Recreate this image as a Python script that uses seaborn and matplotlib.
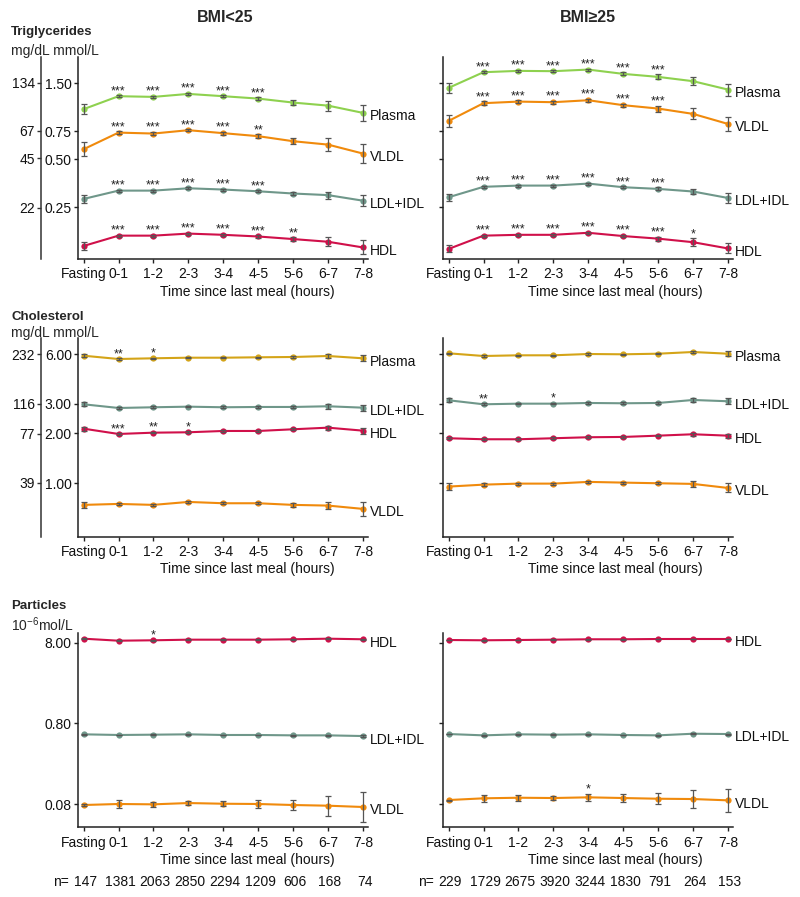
import numpy as np
import pandas as pd
import seaborn as sns
import matplotlib.pyplot as plt
import matplotlib.ticker as mticker
import matplotlib.transforms as mtrans

# Data (mmol/L, log scale), relative error bars in %

times = ["Fasting", "0-1", "1-2", "2-3", "3-4", "4-5", "5-6", "6-7", "7-8"]
n_lean = [147, 1381, 2063, 2850, 2294, 1209, 606, 168, 74]
n_over = [229, 1729, 2675, 3920, 3244, 1830, 791, 264, 153]

# Triglycerides
tg_lean = {
    "Plasma": [1.031, 1.243, 1.231, 1.285, 1.243, 1.201, 1.134, 1.085, 0.977],
    "VLDL": [0.578, 0.735, 0.725, 0.761, 0.729, 0.698, 0.649, 0.618, 0.543],
    "LDL+IDL": [0.282, 0.318, 0.318, 0.329, 0.323, 0.315, 0.305, 0.298, 0.275],
    "HDL": [0.143, 0.166, 0.166, 0.171, 0.168, 0.164, 0.158, 0.152, 0.140],
}
tg_lean_err = {
    "Plasma": [7.5, 1.5, 1.5, 1.5, 1.5, 2.2, 4.0, 7.5, 11.8],
    "VLDL": [10.6, 2.2, 2.2, 1.5, 2.2, 2.9, 4.4, 10.3, 15.2],
    "LDL+IDL": [5.9, 1.5, 1.5, 1.5, 1.5, 1.5, 2.9, 5.2, 8.6],
    "HDL": [5.9, 1.5, 1.5, 1.5, 1.5, 1.5, 2.9, 6.7, 10.6],
}
tg_lean_sig = {
    "Plasma": ["", "***", "***", "***", "***", "***", "", "", ""],
    "VLDL": ["", "***", "***", "***", "***", "**", "", "", ""],
    "LDL+IDL": ["", "***", "***", "***", "***", "***", "", "", ""],
    "HDL": ["", "***", "***", "***", "***", "***", "**", "", ""],
}
tg_over = {
    "Plasma": [1.402, 1.758, 1.792, 1.784, 1.826, 1.716, 1.643, 1.544, 1.368],
    "VLDL": [0.870, 1.124, 1.150, 1.140, 1.173, 1.092, 1.040, 0.963, 0.833],
    "LDL+IDL": [0.289, 0.336, 0.342, 0.342, 0.352, 0.334, 0.326, 0.314, 0.286],
    "HDL": [0.137, 0.166, 0.168, 0.168, 0.173, 0.165, 0.159, 0.151, 0.138],
}
tg_over_err = {
    "Plasma": [7.5, 1.5, 1.5, 1.5, 1.5, 2.2, 3.7, 5.9, 9.1],
    "VLDL": [9.1, 2.9, 2.2, 2.2, 2.2, 2.2, 4.4, 8.3, 11.1],
    "LDL+IDL": [5.2, 1.5, 1.5, 1.5, 1.5, 1.5, 2.2, 4.4, 7.5],
    "HDL": [5.2, 1.5, 1.5, 1.5, 1.5, 1.5, 2.9, 5.9, 7.5],
}
tg_over_sig = {
    "Plasma": ["", "***", "***", "***", "***", "***", "***", "", ""],
    "VLDL": ["", "***", "***", "***", "***", "***", "***", "", ""],
    "LDL+IDL": ["", "***", "***", "***", "***", "***", "***", "", ""],
    "HDL": ["", "***", "***", "***", "***", "***", "***", "*", ""],
}

# Cholesterol
ch_lean = {
    "Plasma": [5.860, 5.598, 5.653, 5.700, 5.700, 5.732, 5.756, 5.836, 5.653],
    "LDL+IDL": [2.987, 2.838, 2.866, 2.890, 2.866, 2.878, 2.878, 2.906, 2.850],
    "HDL": [2.130, 1.979, 2.015, 2.026, 2.063, 2.063, 2.112, 2.160, 2.072],
    "VLDL": [0.740, 0.750, 0.740, 0.771, 0.757, 0.757, 0.740, 0.733, 0.700],
}
ch_lean_err = {
    "Plasma": [2.1, 1.1, 1.1, 1.1, 1.1, 1.1, 1.1, 3.5, 4.2],
    "LDL+IDL": [2.8, 1.1, 1.1, 1.1, 1.1, 1.1, 1.1, 3.5, 4.2],
    "HDL": [2.8, 1.1, 1.1, 1.1, 1.1, 1.1, 1.1, 2.8, 4.2],
    "VLDL": [4.2, 1.4, 1.1, 1.4, 1.4, 1.4, 2.8, 5.0, 9.9],
}
ch_lean_sig = {
    "Plasma": ["", "**", "*", "", "", "", "", "", ""],
    "LDL+IDL": [""] * 9,
    "HDL": ["", "***", "**", "*", "", "", "", "", ""],
    "VLDL": [""] * 9,
}
ch_over = {
    "Plasma": [6.058, 5.836, 5.893, 5.893, 6.000, 5.975, 6.025, 6.169, 6.025],
    "LDL+IDL": [3.158, 2.987, 3.013, 3.013, 3.042, 3.029, 3.042, 3.171, 3.115],
    "HDL": [1.865, 1.839, 1.839, 1.865, 1.891, 1.899, 1.933, 1.971, 1.933],
    "VLDL": [0.954, 0.980, 0.994, 0.994, 1.018, 1.008, 0.999, 0.990, 0.936],
}
ch_over_err = {
    "Plasma": [1.1, 1.1, 1.1, 1.1, 1.1, 1.1, 1.1, 2.1, 3.5],
    "LDL+IDL": [2.8, 1.1, 1.1, 1.1, 1.1, 1.1, 1.1, 2.8, 4.2],
    "HDL": [1.7, 1.1, 1.1, 1.1, 1.1, 1.1, 1.1, 2.1, 2.8],
    "VLDL": [5.0, 1.7, 1.4, 1.4, 1.4, 1.4, 1.7, 4.2, 6.4],
}
ch_over_sig = {
    "Plasma": [""] * 9,
    "LDL+IDL": ["", "**", "", "*", "", "", "", "", ""],
    "HDL": [""] * 9,
    "VLDL": [""] * 9,
}

# Particles (10^-6 mol/L)
pa_lean = {
    "HDL": [8.97, 8.47, 8.57, 8.72, 8.72, 8.72, 8.82, 8.97, 8.82],
    "LDL+IDL": [0.586, 0.575, 0.580, 0.586, 0.575, 0.575, 0.569, 0.569, 0.558],
    "VLDL": [0.0780, 0.0803, 0.0795, 0.0825, 0.0809, 0.0803, 0.0780, 0.0765, 0.0737],
}
pa_lean_err = {
    "HDL": [1.0, 1.0, 1.0, 1.0, 1.0, 1.0, 1.0, 1.0, 1.0],
    "LDL+IDL": [1.0, 1.0, 1.0, 1.0, 1.0, 1.0, 1.0, 1.0, 2.0],
    "VLDL": [2.0, 11.1, 8.3, 6.8, 8.0, 11.1, 16.0, 33.0, 55.6],
}
pa_lean_sig = {
    "HDL": ["", "", "*", "", "", "", "", "", ""],
    "LDL+IDL": [""] * 9,
    "VLDL": [""] * 9,
}
pa_over = {
    "HDL": [8.64, 8.57, 8.64, 8.72, 8.82, 8.82, 8.89, 8.89, 8.89],
    "LDL+IDL": [0.591, 0.569, 0.586, 0.580, 0.586, 0.575, 0.569, 0.596, 0.591],
    "VLDL": [0.0899, 0.0944, 0.0960, 0.0952, 0.0971, 0.0952, 0.0933, 0.0925, 0.0891],
}
pa_over_err = {
    "HDL": [1.0, 1.0, 1.0, 1.0, 1.0, 1.0, 1.0, 1.0, 1.0],
    "LDL+IDL": [1.0, 1.0, 1.0, 1.0, 1.0, 1.0, 1.0, 1.0, 1.5],
    "VLDL": [1.4, 11.1, 9.6, 6.5, 11.1, 11.4, 16.3, 30.0, 38.8],
}
pa_over_sig = {
    "HDL": [""] * 9,
    "LDL+IDL": [""] * 9,
    "VLDL": ["", "", "", "", "*", "", "", "", ""],
}

tg_ticks = [0.25, 0.50, 0.75, 1.50]
tg_mg_ticks = [22, 45, 67, 134]
ch_ticks = [1.00, 2.00, 3.00, 6.00]
ch_mg_ticks = [39, 77, 116, 232]
pa_ticks = [0.08, 0.80, 8.00]

tg_colors = {"Plasma": "#8ed14f", "VLDL": "#f08a0c", "LDL+IDL": "#6f978a", "HDL": "#d0104a"}
ch_colors = {"Plasma": "#d4a418", "VLDL": "#f08a0c", "LDL+IDL": "#6f978a", "HDL": "#d0104a"}

sns.set_theme(style="ticks")
plt.rcParams["font.family"] = ["Liberation Sans", "DejaVu Sans"]
plt.rcParams["mathtext.default"] = "regular"
FS = 10

fig = plt.figure(figsize=(8, 8.97), dpi=100)
W, H = 800, 897


def add_panel(left, top, bottom):
    return fig.add_axes([left / W, 1 - bottom / H, 289.5 / W, (bottom - top) / H])


def draw_panel(ax, values, errors, sig, palette, ylim, ticks, show_labels, xlabel_x):
    rows = []
    for name, vals in values.items():
        for i, v in enumerate(vals):
            rows.append((name, i, v))
    df = pd.DataFrame(rows, columns=["series", "pos", "value"])
    sns.lineplot(data=df, x="pos", y="value", hue="series", hue_order=list(values),
                 palette=palette, marker="o", markersize=4.5, markeredgewidth=0,
                 linewidth=1.5, legend=False, errorbar=None, ax=ax)
    x = np.arange(len(times))
    for name, vals in values.items():
        v = np.array(vals)
        r = 1 + np.array(errors[name]) / 100
        ax.errorbar(x, v, yerr=[v - v / r, v * r - v], fmt="none", ecolor="#555555",
                    elinewidth=0.9, capsize=2, capthick=0.9, zorder=3)
        for i, s in enumerate(sig[name]):
            if s:
                ax.annotate(s, (x[i], v[i] * r[i]), xytext=(0, 0.8), textcoords="offset points",
                            ha="center", va="baseline", fontsize=9, color="#222222")
        ax.annotate(name, (x[-1], v[-1]), xytext=(5, -2.5), textcoords="offset points",
                    ha="left", va="center", fontsize=FS, color="#111111", annotation_clip=False)
    ax.set_yscale("log")
    ax.set_ylim(*ylim)
    ax.set_xlim(-0.16, 8.13)
    ax.set_yticks(ticks)
    ax.yaxis.set_minor_locator(mticker.NullLocator())
    if show_labels:
        ax.set_yticklabels([f"{t:.2f}" for t in ticks])
    else:
        ax.set_yticklabels([])
    ax.set_xticks(x)
    ax.set_xticklabels(times)
    ax.set_xlabel("Time since last meal (hours)", fontsize=FS, labelpad=3.5, color="#111111")
    ax.xaxis.set_label_coords(xlabel_x, -0.13 if ylim[0] > 0.2 else -0.13)
    ax.set_ylabel("")
    ax.tick_params(axis="both", length=3, width=1, labelsize=FS,
                   colors="#222222", labelcolor="#111111")
    ax.tick_params(axis="x", pad=3)
    ax.tick_params(axis="y", pad=1.5)
    for sp in ["top", "right"]:
        ax.spines[sp].set_visible(False)
    for sp in ["left", "bottom"]:
        ax.spines[sp].set_linewidth(1.1)
        ax.spines[sp].set_color("#222222")


def add_mg_axis(ax, factor, mg_ticks):
    sec = ax.secondary_yaxis(-0.128, functions=(lambda v: v * factor, lambda v: v / factor))
    sec.set_yticks(mg_ticks)
    sec.set_yticklabels([str(t) for t in mg_ticks])
    sec.yaxis.set_minor_locator(mticker.NullLocator())
    sec.tick_params(length=3, width=1, pad=1.5, labelsize=FS, colors="#333333", labelcolor="#111111")
    sec.spines["left"].set_linewidth(1.1)
    sec.spines["left"].set_color("#333333")


rows_px = [(57.3, 258.7), (338.3, 536.7), (633.3, 827.3)]
cols_px = [78, 443]
xlabel_pos = [0.584, 0.594]

tg_ylim = (0.119, 2.18)
ch_ylim = (0.476, 7.46)
pa_ylim = (0.0413, 10.46)

ax = add_panel(cols_px[0], *rows_px[0])
draw_panel(ax, tg_lean, tg_lean_err, tg_lean_sig, tg_colors, tg_ylim, tg_ticks, True, xlabel_pos[0])
add_mg_axis(ax, 88.57, tg_mg_ticks)
ax = add_panel(cols_px[1], *rows_px[0])
draw_panel(ax, tg_over, tg_over_err, tg_over_sig, tg_colors, tg_ylim, tg_ticks, False, xlabel_pos[1])

ax = add_panel(cols_px[0], *rows_px[1])
draw_panel(ax, ch_lean, ch_lean_err, ch_lean_sig, ch_colors, ch_ylim, ch_ticks, True, xlabel_pos[0])
add_mg_axis(ax, 38.67, ch_mg_ticks)
ax = add_panel(cols_px[1], *rows_px[1])
draw_panel(ax, ch_over, ch_over_err, ch_over_sig, ch_colors, ch_ylim, ch_ticks, False, xlabel_pos[1])

ax_pl = add_panel(cols_px[0], *rows_px[2])
draw_panel(ax_pl, pa_lean, pa_lean_err, pa_lean_sig, ch_colors, pa_ylim, pa_ticks, True, xlabel_pos[0])
ax_po = add_panel(cols_px[1], *rows_px[2])
draw_panel(ax_po, pa_over, pa_over_err, pa_over_sig, ch_colors, pa_ylim, pa_ticks, False, xlabel_pos[1])

# sample sizes under the bottom panels
for a, ns in [(ax_pl, n_lean), (ax_po, n_over)]:
    trans = mtrans.blended_transform_factory(a.transData, fig.transFigure)
    y = 1 - 882 / H
    for i, n in enumerate(ns):
        a.text(i + 0.05, y, str(n), transform=trans, ha="center", va="center", fontsize=FS, color="#111111")
    a.text(-0.42, y, "n=", transform=trans, ha="right", va="center", fontsize=FS, color="#111111")

# titles and headers
fig.text(225 / W, 1 - 18 / H, "BMI<25", ha="center", va="center", fontsize=11.5, fontweight="bold")
fig.text(588 / W, 1 - 18 / H, "BMI\u226525", ha="center", va="center", fontsize=11.5, fontweight="bold")
for label, units, y1, y2 in [("Triglycerides", "mg/dL mmol/L", 32, 51),
                             ("Cholesterol", "mg/dL mmol/L", 316.7, 332.5),
                             ("Particles", "10$^{-6}$mol/L", 605.7, 624.3)]:
    fig.text(11 / W, 1 - y1 / H, label, ha="left", va="center", fontsize=9.5, fontweight="bold")
    fig.text(11 / W, 1 - y2 / H, units, ha="left", va="center", fontsize=FS)

fig.savefig("out.png", dpi=100)
